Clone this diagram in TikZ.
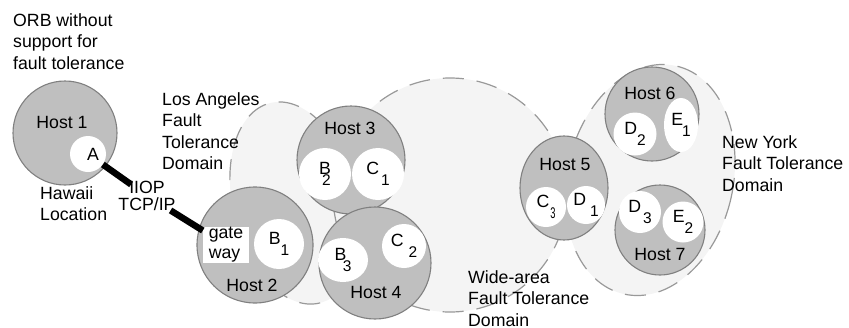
\documentclass[tikz,border=0pt]{standalone}
\usepackage{fontspec}
\setmainfont{Liberation Sans}
\usepackage{graphicx}
\usepackage{xcolor}
\usetikzlibrary{shapes.geometric}
\definecolor{hostfill}{gray}{0.75}
\definecolor{hostedge}{gray}{0.5}
\definecolor{zonefill}{gray}{0.955}
\definecolor{zoneedge}{gray}{0.6}
\newcommand{\repl}[3][1pt]{#2\kern#1\raisebox{-0.6em}{\fontsize{15.5}{16}\selectfont #3}}

\begin{document}
\begin{tikzpicture}[
    x=1pt, y=-1pt,
    font=\fontsize{17.7}{21.5}\selectfont,
    zone/.style={
        ellipse,
        draw=zoneedge,
        fill=zonefill,
        line width=1.2pt,
        dash pattern=on 21pt off 13pt,
        inner sep=0pt
    },
    host/.style={
        circle,
        draw=hostedge,
        fill=hostfill,
        line width=1.1pt,
        inner sep=0pt,
        minimum size=#1
    },
    obj/.style={
        circle,
        fill=white,
        inner sep=0pt,
        minimum size=#1
    },
    tag/.style={inner sep=0pt, align=left, anchor=north west},
    hostname/.style={inner sep=0pt},
    link/.style={line width=6.5pt, black}
]
\useasboundingbox (0,0) rectangle (849,327);

\node[zone, minimum width=124, minimum height=206, rotate=14] (la) at (295,203) {};
\node[zone, minimum width=166, minimum height=234, rotate=-13] (ny) at (650,180) {};
\node[zone, circle, minimum size=234] (widearea) at (450,195) {};

\node[host=104] (host1) at (65,133) {};
\node[host=116] (host2) at (255,245) {};
\node[host=108] (host3) at (351,160) {};
\node[host=112] (host4) at (375,263) {};
\node[host=88, ellipse, minimum height=104] (host5) at (564,188) {};
\node[host=94] (host6) at (652,114) {};
\node[host=90] (host7) at (660,230) {};

\node[obj=36] (A) at (88,154) {\hspace*{10pt}A};
\node[obj=50] (b1) at (279,244) {\repl[0pt]{B}{1}};
\node[obj=52] (b2) at (325,174) {\repl[-0.5em]{B}{2}};
\node[obj=52] (c1) at (378,174) {\repl[2pt]{C}{1}};
\node[obj=44, ellipse, minimum width=50] (b3) at (343,260) {\repl[-0.2em]{B}{3}};
\node[obj=44] (c2) at (404,246) {\repl[5pt]{C}{2}};
\node[obj=40] (c3) at (546,207) {\repl{C}{\scalebox{0.6}[1]{3}}};
\node[obj=38] (d1) at (586,205) {\repl[4pt]{D}{1}};
\node[obj=43] (d2) at (635,134) {\repl[0pt]{D}{2}};
\node[obj=34, ellipse, minimum height=54] (e1) at (681,125) {\repl[-1pt]{E}{1}};
\node[obj=42] (d3) at (640,212) {\repl[2pt]{D}{3}};
\node[obj=41] (e2) at (683,222) {\repl[0pt]{E}{2}};

\node[fill=white, inner sep=0pt, minimum width=46, minimum height=36, align=left,
      font=\fontsize{17.7}{20}\selectfont] (gw) at (226,245) {gate\\way};

\node[hostname] (host1name) at (62,122) {Host 1};
\node[hostname] (host2name) at (252,285) {Host 2};
\node[hostname] (host3name) at (350,128) {Host 3};
\node[hostname] (host4name) at (376,292) {Host 4};
\node[hostname] (host5name) at (565,164) {Host 5};
\node[hostname] (host6name) at (650,93) {Host 6};
\node[hostname] (host7name) at (660,254) {Host 7};

\node[tag] (orb) at (13,13) {ORB without\\support for\\fault tolerance};
\node[tag] (hawaii) at (40,186) {Hawaii\\Location};
\node[tag] (latext) at (162,92) {Los Angeles\\Fault\\Tolerance\\Domain};
\node[tag] (widetext) at (468,270) {Wide-area\\Fault Tolerance\\Domain};
\node[tag] (nytext) at (722,135) {New York\\Fault Tolerance\\Domain};
\node[inner sep=0pt, align=center, anchor=north, font=\fontsize{17.7}{16.5}\selectfont] (iiop) at (147,181) {IIOP\\TCP/IP};

\draw[link, shorten >=-6pt] (A) -- (iiop);
\draw[link] (iiop) -- (gw);
\end{tikzpicture}
\end{document}
